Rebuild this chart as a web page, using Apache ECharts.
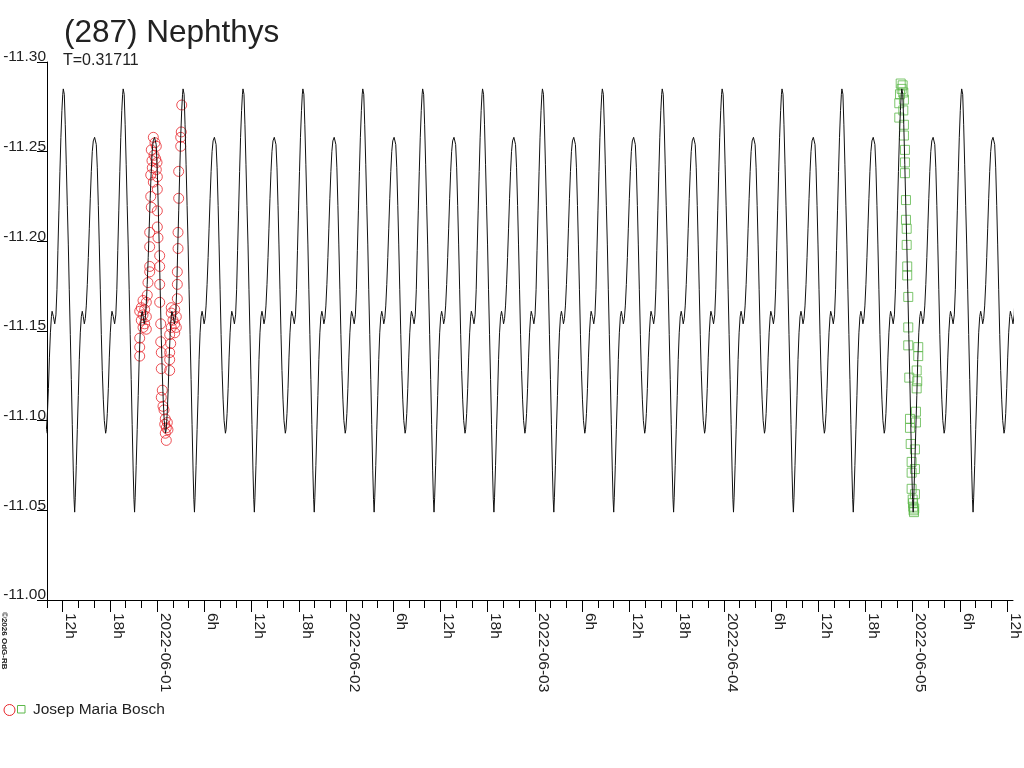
<!DOCTYPE html>
<html><head><meta charset="utf-8">
<script src="https://cdn.jsdelivr.net/npm/echarts@6/dist/echarts.min.js"></script>
<style>html,body{margin:0;padding:0;background:#fff}#c{width:1024px;height:768px}</style>
</head><body><div id="c"></div>
<script>
// ---- data ----
const chartTitle = '(287) Nephthys';
const periodLabel = 'T=0.31711';
const periodDays = 0.31711;
const observerName = 'Josep Maria Bosch';
const copyrightText = '\u00A92026 OdG-RB';
const baseDate = '2022-05-31';          // hours below are counted from this date 00:00 UT
const epochHours = 12.07;               // time of the brightest maximum (phase 0)
const axisMinHours = 10;
const axisMaxHours = 132.75;
const labelHours = [12,18,24,30,36,42,48,54,60,66,72,78,84,90,96,102,108,114,120,126,132];

// model light-curve profile (phase 0..1 -> magnitude)
const profilePhase = [0,.017,.033,.050,.067,.084,.100,.117,.134,.150,.167,.180,.190,
  .200,.217,.234,.251,.267,.284,.301,.317,.334,.351,.368,.384,.401,.418,.434,.451,.468,.484,.501,
  .523,.535,.551,.568,.585,.601,.618,.635,.651,.668,.685,.707,
  .718,.735,.752,.768,.785,.802,.813,.835,.857,.877,.894,.910,.927,.944,.960,.977,.991];
const profileMag = [-11.285,-11.282,-11.265,-11.243,-11.220,-11.198,-11.173,-11.148,-11.123,-11.098,-11.072,-11.056,-11.049,
  -11.057,-11.075,-11.095,-11.114,-11.134,-11.149,-11.158,-11.161,-11.158,-11.154,-11.157,-11.164,-11.176,-11.191,-11.207,-11.224,-11.239,-11.250,-11.256,
  -11.258,-11.258,-11.254,-11.241,-11.220,-11.198,-11.173,-11.148,-11.128,-11.112,-11.100,-11.093,
  -11.095,-11.104,-11.118,-11.135,-11.149,-11.158,-11.161,-11.158,-11.154,-11.159,-11.173,-11.195,-11.217,-11.239,-11.258,-11.273,-11.282];

// observations: [hours after base date, magnitude]
const session1 = [
  [23.25,-11.251],[23.51,-11.258],[23.72,-11.255],[23.89,-11.253],[23.60,-11.248],[23.34,-11.245],[23.81,-11.246],
  [23.98,-11.244],[23.38,-11.241],[23.89,-11.240],[23.18,-11.237],[24.02,-11.236],[23.51,-11.233],
  [24.02,-11.229],[23.18,-11.225],[23.25,-11.219],[24.02,-11.217],[23.05,-11.205],[24.02,-11.208],[24.10,-11.202],
  [23.05,-11.197],[24.32,-11.192],[23.05,-11.186],[24.32,-11.186],
  [23.05,-11.183],[22.83,-11.177],[22.74,-11.170],[22.20,-11.167],[22.62,-11.166],[21.98,-11.163],[22.41,-11.162],
  [21.78,-11.161],[22.20,-11.159],[22.62,-11.158],[21.98,-11.156],[22.41,-11.154],[22.20,-11.152],[22.62,-11.151],
  [21.78,-11.146],[21.78,-11.141],[21.78,-11.136],
  [24.32,-11.176],[24.32,-11.166],[24.45,-11.154],[24.45,-11.144],[24.52,-11.138],[24.52,-11.129],[24.65,-11.117],
  [24.52,-11.113],[24.74,-11.108],[24.87,-11.106],[25.03,-11.101],[25.29,-11.099],[24.96,-11.098],[25.16,-11.096],
  [25.37,-11.095],[25.03,-11.093],[25.16,-11.089],
  [25.59,-11.138],[25.59,-11.134],[25.59,-11.128],[25.72,-11.143],[25.59,-11.148],[25.79,-11.163],[26.23,-11.162],
  [25.79,-11.160],[26.43,-11.158],[26.01,-11.156],[26.23,-11.154],[25.79,-11.152],[26.43,-11.152],[26.23,-11.149],
  [26.56,-11.168],[26.56,-11.176],[26.56,-11.183],[26.65,-11.196],[26.65,-11.205],[26.73,-11.224],[26.73,-11.239],
  [26.99,-11.253],[26.99,-11.258],[27.06,-11.261],[27.12,-11.276]
];
const session2 = [
  [118.48,-11.288],[118.73,-11.287],[118.60,-11.285],[118.81,-11.283],[118.39,-11.282],[118.89,-11.279],[118.30,-11.277],
  [118.81,-11.273],[118.30,-11.269],[118.89,-11.265],[118.89,-11.259],[119.02,-11.251],[119.02,-11.244],[119.02,-11.238],
  [119.15,-11.223],[119.15,-11.212],[119.24,-11.207],[119.24,-11.198],[119.31,-11.186],[119.31,-11.181],[119.44,-11.169],
  [119.44,-11.152],[119.44,-11.142],[120.71,-11.141],[120.71,-11.136],[119.57,-11.124],[120.51,-11.128],[120.58,-11.122],
  [120.51,-11.118],[120.42,-11.105],[119.66,-11.101],[119.66,-11.096],[120.42,-11.099],[119.75,-11.087],[120.29,-11.084],
  [119.87,-11.077],[120.29,-11.073],[119.87,-11.071],[119.87,-11.062],[120.29,-11.059],[120.00,-11.056],[120.08,-11.052],
  [120.17,-11.049],[120.12,-11.050],[120.20,-11.051],[120.05,-11.054]
];

// ---- build ----
const periodHours = periodDays * 24;
const curve = [];
for (let k = -1; k <= 17; k++) {
  for (let i = 0; i < profilePhase.length; i++) {
    curve.push([epochHours + (k + profilePhase[i]) * periodHours, profileMag[i]]);
  }
}
const minorTicks = [];
for (let h = axisMinHours; h <= axisMaxHours; h += 2) minorTicks.push(h);

const FONT = '"Liberation Sans", Arial, sans-serif';
const TXT = '#222';
function fmtX(v) {
  const h = Math.round(v) % 24;
  if (h === 0) {
    const d = new Date(Date.parse(baseDate + 'T00:00:00Z') + Math.round(v) * 3600000);
    return d.toISOString().slice(0, 10);
  }
  return h + 'h';
}

const chart = echarts.init(document.getElementById('c'), null, {renderer: 'canvas'});
chart.setOption({
  animation: false,
  backgroundColor: '#fff',
  grid: {left: 47, right: 11, top: 62, bottom: 168, containLabel: false},
  xAxis: [{
    type: 'value', min: axisMinHours, max: axisMaxHours,
    axisLine: {lineStyle: {color: '#000', width: 1}},
    axisTick: {length: 8, lineStyle: {color: '#000'}, customValues: minorTicks},
    splitLine: {show: false},
    axisLabel: {customValues: labelHours, formatter: fmtX, rotate: -90, margin: 13,
      align: 'left', verticalAlign: 'bottom', color: TXT, fontSize: 15.5, fontFamily: FONT}
  }, {
    type: 'value', min: axisMinHours, max: axisMaxHours, position: 'bottom',
    axisLine: {show: false},
    axisTick: {length: 12, lineStyle: {color: '#000'}, customValues: labelHours},
    axisLabel: {show: false}, splitLine: {show: false}
  }],
  yAxis: {
    type: 'value', inverse: true, min: -11.30, max: -11.00, interval: 0.05,
    axisLine: {show: true, lineStyle: {color: '#000', width: 1}},
    axisTick: {show: true, length: 10, lineStyle: {color: '#000'}},
    splitLine: {show: false},
    axisLabel: {formatter: v => v.toFixed(2), margin: 1, verticalAlign: 'bottom', padding: [0, 0, -3, 0],
      color: TXT, fontSize: 15.5, fontFamily: FONT}
  },
  series: [
    {type: 'scatter', data: session1, symbol: 'circle', symbolSize: 10, z: 2,
      itemStyle: {color: 'rgba(0,0,0,0)', borderColor: '#e8262c', borderWidth: 1}},
    {type: 'scatter', data: session2, symbol: 'rect', symbolSize: 9, z: 2,
      itemStyle: {color: 'rgba(0,0,0,0)', borderColor: '#5cb84a', borderWidth: 1}},
    {type: 'line', data: curve, showSymbol: false, symbol: 'none', z: 3, clip: true,
      lineStyle: {color: '#111', width: 1}}
  ],
  graphic: [
    {type: 'text', x: 64, y: 33, style: {text: chartTitle, font: '31.5px ' + FONT, fill: TXT, textAlign: 'left', textVerticalAlign: 'middle'}},
    {type: 'text', x: 63, y: 61, style: {text: periodLabel, font: '16px ' + FONT, fill: TXT, textAlign: 'left', textVerticalAlign: 'middle'}},
    {type: 'circle', shape: {cx: 9.5, cy: 710, r: 5.5}, style: {fill: 'none', stroke: '#e8262c', lineWidth: 1}},
    {type: 'rect', shape: {x: 17.5, y: 705.5, width: 7.5, height: 7.5}, style: {fill: 'none', stroke: '#5cb84a', lineWidth: 1}},
    {type: 'text', x: 33, y: 710, style: {text: observerName, font: '15.5px ' + FONT, fill: TXT, textAlign: 'left', textVerticalAlign: 'middle'}},
    {type: 'text', x: 4, y: 612, rotation: -Math.PI / 2, style: {text: copyrightText, font: 'bold 8px ' + FONT, fill: TXT, textAlign: 'left', textVerticalAlign: 'middle'}}
  ]
});
</script>
</body></html>
